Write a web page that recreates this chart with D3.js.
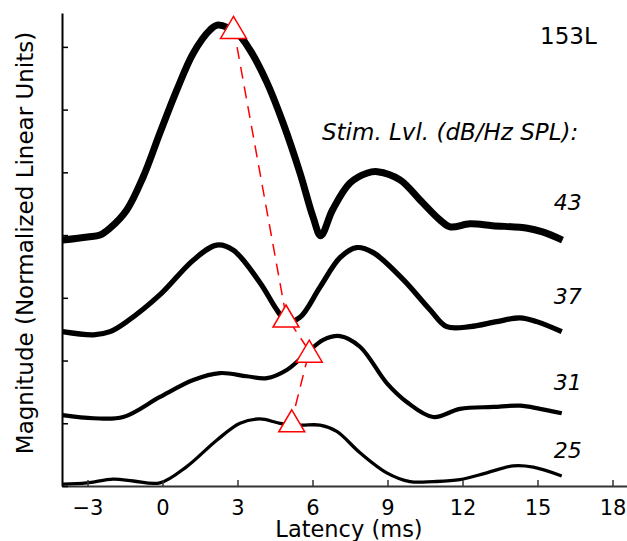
<!DOCTYPE html>
<html>
<head>
<meta charset="utf-8">
<script src="https://cdn.jsdelivr.net/npm/d3@7"></script>
<style>
  html, body { margin: 0; padding: 0; background: #fff; }
  svg { display: block; font-family: "DejaVu Sans", sans-serif; }
</style>
</head>
<body>
<svg id="chart" width="627" height="541"></svg>
<script>
// ---- data ----
const xTicks = [-3, 0, 3, 6, 9, 12, 15, 18];
const yTicks = [0, 1, 2, 3, 4, 5, 6, 7];
const levels = ["43", "37", "31", "25"];

const t43 = [-4.0, -3.0, -2.5, -2.1, -1.43, -0.77, -0.1, 0.57, 1.23, 1.9, 2.22, 2.97, 3.5, 4.18, 4.82, 5.5, 6.02, 6.33, 6.8, 7.5, 8.2, 8.6, 9.5, 10.3, 11.1, 11.5, 12.3, 13.2, 14.6, 15.2, 16.0];
const v43 = [3.92, 3.97, 4.00, 4.11, 4.40, 4.93, 5.63, 6.31, 6.90, 7.27, 7.35, 7.22, 6.95, 6.43, 5.79, 4.99, 4.29, 3.99, 4.40, 4.83, 4.99, 5.01, 4.88, 4.56, 4.24, 4.13, 4.18, 4.15, 4.11, 4.05, 3.92];

const t37 = [-4.0, -2.76, -2.1, -1.43, -0.1, 1.23, 2.17, 2.83, 3.9, 4.57, 4.97, 5.5, 6.3, 7.1, 7.76, 8.43, 9.63, 10.7, 11.37, 12.3, 13.37, 14.3, 14.97, 15.97];
const v37 = [2.46, 2.41, 2.46, 2.62, 3.05, 3.60, 3.84, 3.76, 3.24, 2.81, 2.62, 2.69, 3.17, 3.64, 3.80, 3.72, 3.29, 2.81, 2.54, 2.54, 2.62, 2.68, 2.62, 2.46];

const t31 = [-4.0, -2.76, -1.57, -0.1, 1.23, 2.3, 3.37, 4.17, 4.97, 5.77, 6.43, 7.1, 7.9, 8.97, 9.77, 10.83, 11.9, 13.23, 14.3, 15.1, 15.97];
const v31 = [1.13, 1.08, 1.10, 1.42, 1.69, 1.80, 1.75, 1.72, 1.85, 2.12, 2.33, 2.39, 2.22, 1.64, 1.34, 1.10, 1.23, 1.26, 1.28, 1.23, 1.16];

const t25 = [-4.0, -3.03, -1.97, -1.17, -0.1, 0.97, 2.17, 3.1, 3.9, 4.7, 5.5, 6.3, 6.97, 7.9, 8.97, 9.9, 10.83, 11.9, 12.97, 14.03, 14.83, 15.97];
const v25 = [0.03, 0.05, 0.11, 0.08, 0.05, 0.31, 0.73, 1.00, 1.07, 1.00, 0.97, 0.97, 0.87, 0.53, 0.21, 0.07, 0.07, 0.10, 0.21, 0.32, 0.30, 0.16];

const peakT = [2.84, 4.94, 5.87, 5.17];
const peakV = [7.31, 2.71, 2.15, 1.04];

const labelT = [15.65, 15.65, 15.65, 15.65];
const labelV = [4.4, 2.9, 1.53, 0.44];

// ---- layout ----
const svg = d3.select("#chart");
const x = d3.scaleLinear().domain([-4.02, 18.58]).range([62, 627]);
const y = d3.scaleLinear().domain([0, 7.54]).range([486, 13]);

const traces = [
  {t: t43, v: v43, w: 7},
  {t: t37, v: v37, w: 5.2},
  {t: t31, v: v31, w: 4.2},
  {t: t25, v: v25, w: 3.3}
];

const line = d3.line().x(d => x(d[0])).y(d => y(d[1])).curve(d3.curveCatmullRom.alpha(0.5));

traces.forEach(tr => {
  svg.append("path")
    .datum(tr.t.map((t, i) => [t, tr.v[i]]))
    .attr("d", line)
    .attr("fill", "none")
    .attr("stroke", "#000")
    .attr("stroke-width", tr.w)
    .attr("stroke-linejoin", "round");
});

// dashed connector
const peaks = peakT.map((t, i) => [t, peakV[i]]);
svg.append("path")
  .datum(peaks)
  .attr("d", d3.line().x(d => x(d[0])).y(d => y(d[1])))
  .attr("fill", "none")
  .attr("stroke", "#ff0000")
  .attr("stroke-width", 1.5)
  .attr("stroke-dasharray", "12,8");

// triangle markers
const triPath = "M0,-11 L13,11 L-13,11 Z";
svg.selectAll("path.tri").data(peaks).enter().append("path")
  .attr("class", "tri")
  .attr("d", triPath)
  .attr("transform", d => `translate(${x(d[0])},${y(d[1])})`)
  .attr("fill", "#fff")
  .attr("stroke", "#ff0000")
  .attr("stroke-width", 1.5);

// axes
const xAxis = d3.axisBottom(x).tickValues(xTicks).tickSizeInner(-6).tickSizeOuter(0).tickPadding(14)
  .tickFormat(d => d < 0 ? "\u2212" + Math.abs(d) : String(d));
const gx = svg.append("g").attr("transform", "translate(0,486)").call(xAxis);
gx.select(".domain").attr("stroke", "#333").attr("stroke-width", 2);
gx.selectAll(".tick line").attr("stroke", "#333").attr("stroke-width", 1.5);
gx.selectAll(".tick text").attr("font-family", "DejaVu Sans").attr("font-size", 21).attr("fill", "#000");

const yAxis = d3.axisLeft(y).tickValues(yTicks).tickSizeInner(-6).tickSizeOuter(0).tickFormat("");
const gy = svg.append("g").attr("transform", "translate(62,0)").call(yAxis);
gy.select(".domain").attr("stroke", "#000").attr("stroke-width", 2);
gy.selectAll(".tick line").attr("stroke", "#000").attr("stroke-width", 1.5);

// axis titles
svg.append("text")
  .attr("x", 349).attr("y", 537)
  .attr("text-anchor", "middle")
  .attr("font-size", 22.5)
  .text("Latency (ms)");

svg.append("text")
  .attr("transform", "translate(33,243) rotate(-90)")
  .attr("text-anchor", "middle")
  .attr("font-size", 23)
  .text("Magnitude (Normalized Linear Units)");

// annotations
svg.append("text")
  .attr("x", 540).attr("y", 44)
  .attr("font-size", 23)
  .text("153L");

svg.append("text")
  .attr("x", 322).attr("y", 140)
  .attr("font-size", 23)
  .attr("font-style", "italic")
  .text("Stim. Lvl. (dB/Hz SPL):");

svg.selectAll("text.lvl").data(levels).enter().append("text")
  .attr("class", "lvl")
  .attr("x", (d, i) => x(labelT[i]))
  .attr("y", (d, i) => y(labelV[i]))
  .attr("font-size", 22)
  .attr("font-style", "italic")
  .text(d => d);
</script>
</body>
</html>
